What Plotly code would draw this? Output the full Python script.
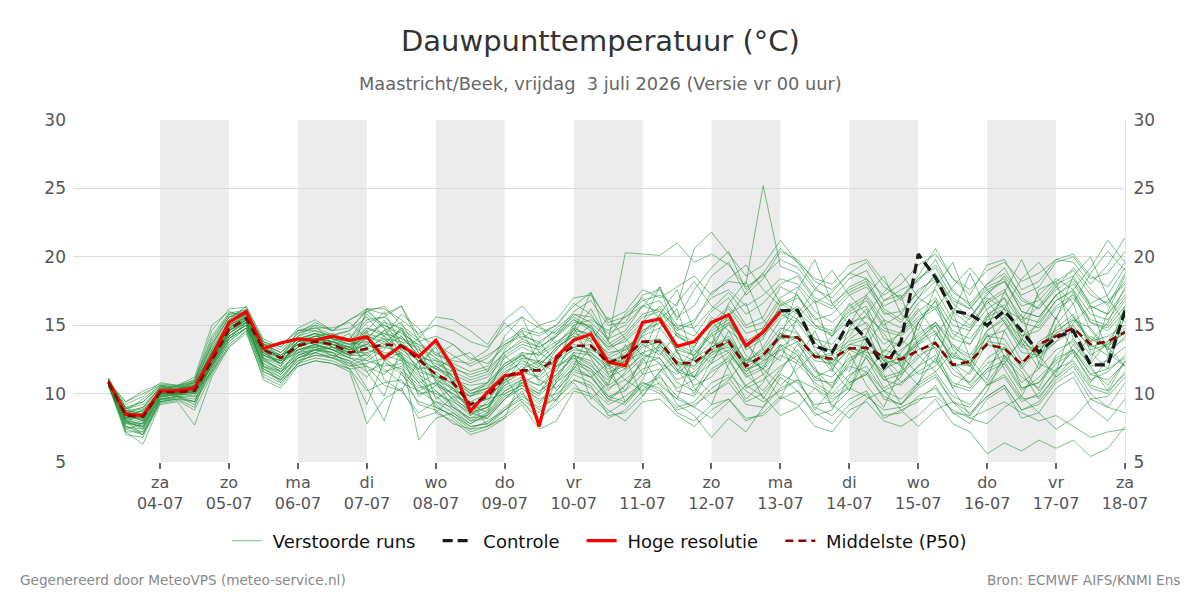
import pandas as pd
import plotly.graph_objects as go

# ---------------- data ----------------
times = pd.date_range("2026-07-03 06:00", periods=60, freq="6h")

tick_days = ["za", "zo", "ma", "di", "wo", "do", "vr", "za", "zo", "ma", "di", "wo", "do", "vr", "za"]
tick_dates = ["04-07", "05-07", "06-07", "07-07", "08-07", "09-07", "10-07", "11-07",
              "12-07", "13-07", "14-07", "15-07", "16-07", "17-07", "18-07"]
tick_iso = ["2026-07-%02d" % d for d in range(4, 19)]
shaded_days = ["2026-07-04", "2026-07-06", "2026-07-08", "2026-07-10",
               "2026-07-12", "2026-07-14", "2026-07-16"]

hires = [10.9, 8.5, 8.4,
         10.2, 10.2, 10.4, 12.7,
         15.2, 16.0, 13.3, 13.7,
         14.0, 13.9, 14.2, 13.9,
         14.15, 12.6, 13.5, 12.7,
         13.9, 11.9, 8.7, 10.1,
         11.3, 11.5, 7.6, 12.7,
         13.9, 14.35, 12.3, 12.05,
         15.2, 15.45, 13.45, 13.8,
         15.2, 15.76, 13.5, 14.5,
         16.0]

control_times = times[39:]
control = [16.05, 16.1, 13.5, 13.0, 15.3, 14.0, 11.9, 13.8, 20.2, 18.5, 16.05, 15.8,
           15.0, 16.05, 14.6, 13.0, 14.1, 14.6, 12.1, 12.1, 16.05]

median = [10.8, 8.4, 8.3, 10.1, 10.1, 10.2, 12.4, 14.7, 15.5, 13.2, 12.6, 13.5,
          13.8, 13.6, 13.0, 13.3, 13.6, 13.5, 12.5, 11.4, 10.8, 9.2, 9.8, 11.2,
          11.7, 11.7, 12.6, 13.5, 13.5, 12.25, 12.7, 13.8, 13.8, 12.2, 12.25, 13.3,
          13.8, 12.0, 12.8, 14.2, 14.1, 12.7, 12.55, 13.3, 13.35, 12.7, 12.5, 13.15,
          13.7, 12.1, 12.35, 13.6, 13.3, 12.15, 13.6, 14.2, 14.8, 13.6, 13.8, 14.5]

run01 = [11.0, 8.2, 7.9, 10.0, 10.3, 10.8, 12.9, 15.0, 15.6, 13.0, 12.2, 13.6,
         14.0, 13.8, 13.2, 14.5, 15.0, 14.2, 12.8, 11.0, 9.5, 8.4, 9.0, 10.8,
         11.5, 12.0, 13.4, 14.2, 13.8, 12.0, 13.0, 14.6, 15.5, 13.0, 12.4, 14.8,
         15.6, 13.2, 14.0, 16.5, 17.2, 15.0, 14.2, 15.8, 16.4, 14.0, 13.5, 15.2,
         16.8, 14.4, 13.6, 15.8, 16.5, 14.2, 15.0, 16.8, 17.5, 15.2, 14.8, 16.4]
run02 = [10.7, 8.8, 8.5, 10.3, 10.0, 9.8, 12.0, 14.4, 15.2, 12.5, 11.8, 13.0,
         13.5, 13.2, 12.6, 12.0, 11.4, 12.6, 11.0, 9.8, 8.8, 7.8, 8.5, 10.0,
         10.6, 9.8, 11.2, 12.8, 12.2, 10.4, 11.0, 12.2, 12.6, 10.8, 10.2, 11.6,
         12.4, 10.6, 11.4, 12.8, 12.2, 10.8, 10.0, 11.4, 12.0, 10.2, 9.6, 10.8,
         11.6, 9.8, 9.2, 10.6, 11.2, 9.4, 10.0, 11.8, 12.4, 10.6, 10.2, 11.4]
run03 = [10.9, 8.0, 7.4, 9.9, 10.2, 10.6, 13.2, 15.4, 16.0, 13.4, 12.8, 14.0,
         14.4, 14.0, 13.8, 15.2, 15.6, 14.6, 13.4, 12.6, 11.2, 10.0, 10.4, 12.2,
         13.0, 12.8, 14.2, 15.2, 15.0, 13.6, 14.4, 15.8, 16.2, 14.6, 15.2, 17.4,
         18.2, 18.0, 25.2, 19.3, 18.8, 17.0, 16.4, 17.8, 18.4, 16.2, 15.4, 17.0,
         18.2, 16.0, 15.0, 16.8, 17.6, 15.2, 16.4, 18.0, 18.6, 16.4, 15.8, 17.6]
run04 = [10.6, 8.6, 8.9, 10.5, 10.4, 10.9, 13.8, 15.8, 15.9, 13.8, 13.2, 14.4,
         14.8, 14.3, 14.6, 16.2, 15.8, 16.4, 14.2, 13.6, 12.8, 12.0, 12.6, 13.8,
         14.6, 14.2, 15.0, 16.6, 15.8, 13.8, 20.3, 20.2, 20.1, 21.0, 19.6, 20.2,
         19.4, 17.8, 18.6, 19.8, 19.2, 17.6, 17.0, 18.4, 19.0, 16.8, 17.6, 18.2,
         19.8, 17.4, 16.6, 18.0, 19.2, 17.0, 16.2, 17.8, 19.2, 17.6, 16.4, 18.8]
run05 = [11.1, 7.2, 6.3, 9.2, 9.4, 7.7, 11.2, 13.4, 14.6, 11.0, 10.4, 12.0,
         12.4, 12.2, 11.6, 7.8, 9.6, 10.4, 8.2, 8.6, 8.0, 7.0, 7.4, 8.2,
         9.2, 7.4, 8.0, 10.2, 9.8, 8.6, 9.4, 10.6, 10.0, 8.8, 9.2, 10.0,
         10.8, 9.2, 9.0, 10.4, 11.0, 9.0, 8.4, 9.6, 10.2, 8.2, 8.8, 9.4,
         10.6, 8.6, 7.8, 9.6, 10.4, 8.2, 8.6, 10.4, 11.2, 9.0, 8.0, 9.6]
run06 = [10.8, 9.2, 9.8, 10.8, 10.6, 11.0, 14.6, 16.2, 16.3, 14.0, 13.4, 14.8,
         15.4, 14.6, 15.4, 16.2, 16.2, 15.4, 14.4, 15.0, 14.6, 13.8, 13.4, 14.8,
         15.6, 14.8, 14.4, 16.0, 16.8, 15.0, 15.2, 17.2, 17.6, 15.6, 16.4, 18.6,
         19.6, 17.2, 18.4, 20.4, 19.8, 18.2, 17.6, 18.8, 19.6, 17.8, 17.0, 18.6,
         20.6, 18.4, 17.2, 19.4, 19.8, 17.6, 18.2, 19.8, 20.2, 18.6, 17.8, 19.6]
run07 = [10.5, 7.8, 7.6, 9.6, 9.8, 9.2, 11.6, 13.8, 14.8, 11.6, 11.0, 12.4,
         12.8, 12.6, 12.0, 12.6, 13.6, 12.8, 11.2, 10.2, 9.0, 8.0, 8.2, 9.6,
         10.4, 9.2, 10.8, 12.2, 11.6, 10.2, 11.6, 13.0, 13.4, 11.8, 11.2, 13.0,
         13.4, 11.6, 12.8, 14.2, 13.0, 11.2, 10.6, 12.4, 13.2, 11.0, 11.4, 12.6,
         13.8, 11.8, 10.8, 12.6, 13.4, 10.4, 10.8, 12.2, 13.0, 11.0, 11.6, 12.8]
run08 = [10.9, 8.4, 8.0, 10.1, 10.2, 10.0, 12.2, 14.6, 15.4, 12.8, 12.4, 13.4,
         13.9, 13.4, 12.8, 13.8, 12.4, 11.4, 10.2, 10.8, 9.6, 8.8, 9.2, 10.4,
         11.0, 10.6, 11.4, 12.6, 11.8, 9.8, 9.4, 10.8, 10.4, 8.6, 8.0, 9.2,
         9.6, 8.0, 8.6, 9.8, 9.2, 7.6, 7.2, 8.8, 9.4, 8.0, 7.6, 8.4,
         9.6, 7.8, 7.2, 5.6, 6.4, 5.8, 6.6, 6.0, 6.6, 5.4, 6.0, 7.6]
run09 = [11.0, 8.6, 8.7, 10.2, 10.0, 10.4, 12.6, 14.8, 15.6, 13.2, 12.6, 13.2,
         13.6, 13.8, 13.4, 14.8, 14.2, 13.2, 12.4, 11.4, 10.4, 9.4, 10.0, 11.4,
         12.4, 11.8, 12.8, 13.6, 13.2, 12.6, 12.2, 13.6, 14.0, 12.0, 12.6, 13.4,
         14.0, 12.4, 13.2, 14.8, 14.4, 12.6, 13.0, 13.8, 14.2, 12.4, 12.2, 13.8,
         14.6, 12.2, 12.0, 14.2, 14.0, 12.0, 13.8, 14.6, 15.4, 13.8, 14.2, 15.0]
run10 = [10.7, 8.1, 8.4, 9.8, 9.9, 10.2, 12.0, 14.2, 15.0, 12.2, 11.4, 12.8,
         13.2, 13.0, 12.2, 11.2, 12.8, 13.6, 11.6, 9.0, 8.4, 7.6, 7.8, 9.0,
         10.0, 8.8, 9.8, 11.4, 10.8, 9.4, 10.6, 11.8, 12.2, 10.2, 9.8, 11.8,
         12.6, 10.4, 11.0, 12.0, 12.8, 10.6, 9.8, 10.8, 11.4, 9.8, 9.2, 10.4,
         11.2, 9.4, 8.6, 9.8, 10.6, 8.8, 9.4, 11.0, 12.0, 10.0, 9.0, 10.8]
run11 = [10.6, 7.4, 7.0, 9.4, 9.6, 9.0, 12.4, 14.4, 15.4, 12.0, 11.6, 12.6,
         13.0, 13.4, 13.0, 13.6, 14.6, 15.2, 13.0, 12.0, 11.0, 10.6, 10.8, 12.2,
         12.8, 13.0, 13.8, 14.6, 14.4, 12.8, 13.4, 14.2, 14.8, 13.2, 12.8, 14.2,
         15.0, 13.8, 14.6, 16.2, 15.4, 14.0, 13.6, 15.2, 15.6, 14.6, 14.2, 15.4,
         16.2, 14.0, 13.6, 15.4, 15.8, 13.6, 13.2, 14.4, 15.6, 14.0, 13.4, 14.6]
run12 = [10.8, 9.0, 9.4, 10.6, 10.5, 10.8, 13.4, 15.6, 16.2, 13.6, 13.0, 14.2,
         14.6, 14.2, 14.0, 15.8, 14.8, 14.0, 13.6, 13.0, 12.2, 11.6, 12.0, 13.6,
         14.4, 13.6, 14.8, 15.8, 15.2, 14.0, 14.6, 16.4, 17.8, 15.4, 17.6, 19.2,
         20.4, 17.6, 18.8, 20.6, 19.6, 18.4, 18.0, 19.4, 19.8, 18.2, 16.8, 18.4,
         19.2, 17.0, 16.2, 17.8, 18.4, 16.0, 15.6, 17.2, 18.2, 16.4, 15.8, 17.2]
run13 = [10.9, 8.3, 8.2, 10.2, 10.1, 10.3, 12.3, 14.6, 15.5, 13.0, 12.6, 13.8,
         14.0, 13.6, 13.0, 13.0, 13.4, 13.0, 12.0, 11.6, 10.6, 9.2, 9.6, 11.0,
         11.6, 11.2, 12.6, 13.4, 13.6, 12.4, 12.8, 13.8, 13.6, 12.2, 12.0, 13.2,
         13.8, 12.0, 12.6, 14.0, 14.2, 12.8, 12.4, 13.4, 13.0, 12.8, 12.0, 13.2,
         13.8, 12.0, 12.2, 13.6, 13.2, 12.2, 13.6, 14.2, 14.8, 13.4, 13.8, 14.4]
run14 = [10.6, 7.6, 7.2, 9.6, 9.8, 9.6, 11.8, 14.0, 15.2, 11.8, 11.0, 12.6,
         13.2, 12.8, 12.4, 10.4, 8.0, 11.6, 9.2, 8.8, 7.8, 7.4, 8.0, 8.8,
         10.2, 8.0, 9.6, 11.0, 10.6, 8.4, 8.6, 9.8, 11.4, 9.2, 8.4, 6.8,
         8.2, 7.2, 9.0, 11.2, 10.2, 8.4, 8.8, 11.2, 12.6, 10.4, 11.2, 13.6,
         15.0, 12.2, 11.4, 13.8, 15.2, 13.0, 12.8, 15.6, 17.4, 14.6, 13.2, 16.4]
run15 = [11.1, 8.9, 9.2, 10.4, 10.3, 10.6, 13.0, 15.2, 15.8, 13.4, 12.6, 13.8,
         14.2, 14.0, 13.6, 14.6, 16.0, 13.6, 12.8, 12.2, 11.6, 11.0, 11.4, 12.8,
         13.6, 13.2, 14.4, 15.4, 14.6, 13.4, 13.8, 15.0, 15.6, 14.2, 13.6, 15.0,
         16.2, 14.4, 14.8, 16.8, 16.0, 14.8, 14.4, 16.2, 17.0, 15.0, 15.8, 17.6,
         18.4, 16.2, 15.4, 17.4, 18.2, 16.4, 16.8, 18.2, 19.0, 17.2, 16.6, 18.2]
run16 = [10.7, 8.0, 7.8, 9.9, 10.0, 10.1, 12.2, 14.4, 15.3, 12.6, 12.0, 13.2,
         13.6, 13.2, 12.6, 12.4, 12.0, 12.2, 10.8, 9.2, 8.2, 7.2, 7.6, 8.8,
         9.6, 8.6, 10.2, 11.6, 11.2, 9.8, 10.2, 11.4, 11.8, 10.4, 11.0, 12.6,
         13.2, 11.2, 11.8, 13.2, 13.8, 11.6, 11.2, 12.6, 13.2, 11.2, 11.6, 12.8,
         13.4, 11.4, 10.8, 12.2, 12.8, 10.8, 11.8, 13.2, 13.8, 12.0, 12.4, 13.4]
run17 = [10.9, 9.4, 10.2, 10.7, 10.6, 11.2, 15.0, 16.0, 15.6, 13.2, 12.8, 13.6,
         14.2, 14.4, 13.8, 13.4, 14.0, 13.8, 12.6, 12.4, 11.2, 10.2, 10.6, 12.0,
         12.8, 12.2, 13.2, 14.4, 14.0, 13.0, 13.2, 14.6, 15.2, 13.6, 13.0, 14.6,
         15.4, 13.4, 14.2, 15.6, 16.4, 15.0, 14.6, 16.0, 16.8, 14.8, 14.4, 16.0,
         17.0, 15.0, 14.6, 16.2, 17.0, 15.2, 14.8, 16.4, 17.2, 15.4, 15.0, 16.8]
run18 = [10.5, 8.2, 8.6, 10.0, 9.9, 10.0, 12.0, 14.0, 14.8, 12.4, 11.8, 12.8,
         13.2, 13.4, 12.8, 12.8, 11.6, 12.0, 10.0, 10.2, 9.2, 8.0, 8.6, 10.2,
         10.8, 10.0, 11.4, 12.8, 12.4, 11.2, 11.8, 12.8, 12.6, 11.0, 11.6, 12.8,
         13.6, 11.8, 12.2, 13.6, 12.8, 11.0, 10.8, 12.0, 11.6, 10.2, 10.8, 11.6,
         12.4, 10.6, 10.2, 11.6, 12.2, 10.2, 11.2, 12.4, 13.2, 11.4, 11.8, 12.6]
run19 = [10.8, 8.5, 8.0, 10.0, 10.2, 10.5, 12.6, 14.9, 15.7, 13.4, 12.6, 13.6,
         14.0, 13.8, 13.6, 14.0, 15.2, 14.8, 13.8, 12.8, 12.4, 12.2, 12.8, 13.6,
         14.2, 13.8, 14.6, 15.6, 14.8, 13.2, 14.0, 15.2, 16.4, 14.8, 14.2, 16.0,
         17.0, 15.0, 15.6, 17.8, 17.2, 15.4, 15.8, 17.2, 17.8, 16.0, 15.2, 17.0,
         18.8, 16.6, 15.6, 17.2, 18.6, 16.8, 16.2, 17.6, 18.4, 16.6, 17.2, 19.2]
run20 = [11.0, 7.9, 7.6, 9.8, 10.1, 10.2, 12.4, 14.6, 15.4, 12.4, 11.6, 13.0,
         13.6, 13.2, 12.8, 13.2, 12.8, 12.4, 11.4, 10.6, 10.0, 9.0, 9.2, 10.6,
         11.2, 10.6, 11.8, 13.0, 12.8, 11.6, 12.0, 13.4, 13.8, 12.4, 11.8, 13.0,
         13.8, 12.2, 12.8, 14.4, 14.0, 12.6, 12.8, 13.6, 14.0, 12.4, 13.2, 14.2,
         15.2, 13.4, 12.6, 14.2, 14.6, 12.4, 12.8, 13.8, 14.6, 12.8, 13.6, 14.4]
run21 = [10.7, 7.0, 6.8, 9.3, 9.5, 8.8, 11.4, 13.6, 14.6, 11.4, 10.8, 12.2,
         12.6, 12.4, 11.8, 10.2, 10.8, 11.0, 9.4, 9.0, 8.4, 7.4, 7.6, 8.4,
         9.4, 8.2, 9.2, 10.4, 10.0, 8.8, 8.0, 9.4, 9.6, 8.4, 7.6, 8.8,
         9.6, 8.2, 8.4, 9.6, 10.2, 8.6, 7.8, 9.2, 10.0, 8.4, 8.6, 9.8,
         10.4, 8.6, 8.4, 9.8, 10.6, 8.8, 9.2, 10.8, 11.6, 9.6, 9.8, 11.2]
run22 = [10.6, 8.7, 9.0, 10.4, 10.3, 10.5, 13.2, 15.2, 15.8, 13.6, 13.0, 14.0,
         14.4, 14.2, 14.0, 15.4, 15.6, 16.4, 13.8, 14.2, 13.6, 12.6, 12.2, 13.4,
         14.8, 14.4, 15.0, 16.4, 17.4, 15.2, 15.6, 16.4, 16.8, 15.0, 14.8, 16.2,
         17.4, 15.8, 16.6, 18.0, 18.6, 16.8, 16.2, 17.4, 18.0, 16.4, 17.0, 18.4,
         19.4, 17.6, 16.4, 18.0, 18.8, 17.2, 17.8, 19.6, 20.0, 18.4, 18.8, 20.4]
run23 = [11.0, 8.3, 8.1, 10.1, 10.0, 10.3, 12.4, 14.7, 15.5, 13.0, 12.2, 13.4,
         13.8, 13.6, 13.2, 13.6, 13.0, 12.8, 11.8, 11.2, 10.8, 9.8, 10.2, 11.6,
         12.2, 11.6, 12.4, 13.2, 13.0, 12.0, 12.6, 13.8, 14.0, 12.6, 12.0, 13.4,
         14.2, 12.4, 13.0, 14.4, 13.8, 12.4, 12.2, 13.6, 13.4, 12.2, 12.6, 13.6,
         14.4, 12.6, 12.4, 13.8, 13.6, 11.8, 13.4, 14.4, 15.0, 13.2, 13.6, 14.8]
run24 = [10.8, 7.6, 7.0, 9.4, 9.7, 9.4, 11.6, 13.8, 14.8, 11.6, 11.0, 12.0,
         12.4, 12.2, 11.8, 12.0, 10.6, 10.2, 8.6, 9.4, 8.6, 7.6, 7.8, 8.8,
         9.8, 9.0, 9.6, 10.8, 9.2, 8.2, 8.8, 10.2, 10.8, 9.6, 9.0, 10.4,
         11.2, 9.4, 10.0, 11.4, 10.8, 9.2, 9.4, 10.6, 11.6, 9.6, 9.2, 10.6,
         11.4, 9.4, 9.0, 10.6, 11.4, 9.6, 9.8, 11.2, 12.2, 10.4, 10.0, 11.6]
run25 = [10.9, 8.4, 8.8, 10.3, 10.4, 10.6, 12.8, 15.0, 15.8, 13.2, 12.6, 13.8,
         14.2, 13.8, 13.4, 14.2, 13.8, 14.6, 12.6, 11.8, 11.0, 10.0, 10.4, 11.8,
         12.6, 12.4, 13.6, 14.8, 14.2, 12.6, 13.2, 14.4, 15.2, 13.4, 12.8, 14.4,
         15.2, 13.6, 14.4, 15.8, 15.2, 13.4, 13.2, 14.6, 15.2, 13.6, 14.4, 15.6,
         16.4, 14.6, 14.0, 15.6, 16.2, 14.2, 14.6, 16.2, 17.0, 15.2, 14.6, 16.0]
run26 = [10.7, 8.5, 8.3, 10.0, 10.2, 10.4, 12.6, 14.8, 15.6, 13.0, 12.4, 13.4,
         13.8, 13.6, 13.2, 14.0, 14.4, 13.6, 12.4, 11.8, 11.4, 10.8, 11.2, 12.6,
         13.4, 12.8, 13.6, 15.0, 15.4, 14.6, 15.6, 16.8, 17.2, 16.4, 20.6, 21.8,
         20.2, 18.6, 19.4, 21.2, 19.6, 17.8, 16.6, 17.6, 18.2, 15.8, 16.0, 17.4,
         18.6, 16.8, 16.2, 17.6, 18.2, 16.0, 15.6, 17.2, 18.0, 16.2, 16.8, 18.0]
run27 = [10.6, 7.8, 7.8, 9.8, 9.9, 10.0, 12.0, 14.2, 15.0, 12.2, 11.6, 12.6,
         13.2, 13.0, 12.6, 16.2, 14.8, 12.8, 6.6, 8.2, 8.6, 7.8, 8.4, 9.6,
         10.8, 11.4, 13.2, 14.6, 17.4, 13.8, 12.6, 15.2, 17.8, 14.2, 13.4, 15.6,
         14.6, 12.2, 13.4, 15.4, 16.2, 13.8, 12.2, 14.0, 14.8, 11.8, 12.4, 14.0,
         15.0, 12.8, 12.2, 14.6, 15.4, 13.4, 13.0, 14.8, 15.8, 13.6, 12.8, 14.2]
run28 = [10.8, 8.9, 9.4, 10.5, 10.4, 10.7, 13.6, 15.6, 16.0, 13.8, 13.4, 14.6,
         15.0, 14.6, 14.8, 16.0, 15.0, 14.4, 13.6, 12.6, 11.8, 11.4, 11.8, 13.0,
         13.8, 13.4, 14.2, 15.4, 14.8, 13.4, 14.2, 15.6, 16.0, 14.4, 13.8, 15.2,
         16.4, 14.8, 15.2, 17.0, 17.8, 16.0, 15.2, 16.4, 17.2, 15.4, 14.8, 16.6,
         17.6, 15.4, 14.8, 16.6, 17.4, 15.6, 15.2, 16.8, 17.6, 15.8, 15.4, 17.0]
run29 = [11.1, 8.0, 7.5, 9.7, 10.0, 10.2, 12.2, 14.4, 15.2, 12.0, 11.2, 12.4,
         12.8, 12.8, 12.4, 11.6, 12.2, 11.8, 10.6, 10.0, 9.4, 8.6, 9.0, 10.2,
         11.0, 10.2, 11.0, 12.4, 11.8, 10.6, 11.4, 12.6, 13.2, 11.6, 11.2, 12.2,
         13.0, 11.4, 12.0, 13.4, 14.2, 12.8, 12.0, 13.2, 12.6, 11.0, 10.6, 12.0,
         12.8, 10.8, 10.4, 11.8, 12.4, 10.4, 10.8, 12.6, 13.2, 11.4, 11.0, 12.2]
run30 = [10.9, 8.6, 8.4, 10.2, 10.3, 10.6, 13.0, 15.2, 15.9, 13.6, 12.8, 14.0,
         14.4, 14.0, 13.8, 14.8, 14.4, 14.0, 13.2, 12.4, 12.0, 11.2, 11.6, 13.0,
         14.0, 13.4, 14.2, 15.8, 15.6, 14.4, 15.0, 16.4, 16.0, 14.8, 15.4, 17.0,
         17.6, 16.4, 17.2, 18.4, 18.0, 16.6, 17.4, 18.8, 18.4, 17.2, 18.0, 19.4,
         20.2, 18.4, 17.6, 19.0, 19.6, 18.2, 18.8, 19.8, 19.6, 18.0, 19.4, 21.4]
run31 = [10.8, 8.7, 9.6, 10.6, 10.2, 10.9, 14.2, 15.9, 16.1, 13.2, 12.0, 14.2,
         15.0, 13.6, 13.4, 12.4, 13.2, 14.8, 13.0, 9.6, 10.4, 8.8, 9.8, 12.8,
         11.6, 13.8, 12.2, 14.8, 12.6, 10.6, 13.6, 11.4, 14.8, 16.2, 12.4, 13.0,
         15.8, 16.6, 13.2, 12.4, 15.6, 16.8, 12.8, 11.6, 14.4, 16.8, 17.2, 13.4,
         12.2, 15.8, 18.8, 16.0, 12.6, 13.8, 17.6, 18.2, 14.0, 12.4, 16.0, 18.6]
run32 = [10.5, 7.4, 7.8, 9.6, 9.8, 9.4, 12.6, 14.2, 15.0, 12.6, 11.6, 13.2,
         13.4, 13.8, 14.4, 11.6, 9.8, 13.4, 11.8, 13.6, 11.6, 9.2, 8.6, 11.4,
         13.0, 10.8, 9.4, 12.0, 14.6, 11.4, 10.2, 12.6, 10.6, 9.6, 12.8, 14.4,
         11.8, 9.6, 10.8, 13.6, 11.2, 8.8, 10.4, 13.0, 10.6, 9.0, 11.8, 15.2,
         13.2, 10.4, 11.6, 14.4, 11.8, 9.8, 12.2, 15.6, 13.0, 10.8, 12.6, 16.2]
run33 = [11.0, 9.0, 8.2, 10.4, 10.6, 10.2, 12.8, 15.4, 16.4, 13.8, 12.4, 14.6,
         14.8, 14.8, 15.2, 14.0, 15.4, 13.2, 14.0, 11.8, 12.6, 13.0, 11.6, 14.2,
         15.6, 13.0, 12.2, 15.0, 13.8, 15.6, 14.0, 12.8, 15.8, 17.6, 14.6, 13.6,
         16.6, 18.2, 15.4, 14.0, 17.6, 19.8, 16.6, 15.0, 17.2, 18.6, 15.8, 14.6,
         17.8, 19.6, 16.4, 14.8, 17.4, 19.8, 17.0, 15.4, 18.6, 20.0, 17.0, 15.2]
run34 = [10.6, 8.0, 7.0, 9.6, 9.6, 10.6, 12.8, 14.0, 15.2, 12.0, 10.8, 12.2,
         13.0, 12.6, 13.4, 14.6, 11.0, 10.2, 12.4, 8.6, 9.8, 9.4, 7.6, 8.2,
         11.2, 12.4, 10.2, 11.8, 13.4, 12.2, 9.4, 11.0, 13.6, 11.8, 10.0, 12.4,
         14.0, 12.2, 9.6, 11.6, 13.6, 12.0, 9.0, 10.2, 12.8, 11.4, 9.2, 10.8,
         12.6, 10.4, 8.4, 10.2, 12.8, 11.6, 9.6, 11.4, 13.6, 12.0, 10.2, 12.4]
run35 = [10.9, 8.2, 8.8, 10.0, 10.0, 10.4, 12.4, 14.6, 15.4, 12.8, 12.2, 13.2,
         13.6, 13.2, 13.0, 13.2, 14.2, 12.4, 10.8, 11.4, 10.2, 9.8, 10.4, 10.8,
         12.6, 11.0, 10.4, 12.0, 11.2, 9.6, 9.2, 10.6, 11.2, 9.8, 9.0, 8.2,
         9.4, 10.6, 9.8, 8.4, 9.0, 10.4, 9.2, 8.2, 9.6, 10.2, 8.8, 7.6,
         8.8, 9.4, 8.2, 7.8, 9.0, 9.8, 8.6, 7.4, 8.2, 9.6, 9.0, 8.6]
run36 = [10.7, 7.6, 7.4, 9.5, 9.8, 9.8, 12.0, 14.2, 15.0, 11.8, 11.2, 12.6,
         13.0, 12.6, 12.2, 13.0, 11.8, 10.8, 10.2, 9.4, 9.0, 8.2, 8.4, 9.8,
         10.4, 9.6, 10.0, 11.0, 10.4, 9.2, 9.8, 10.8, 10.2, 9.0, 9.4, 10.8,
         11.4, 10.2, 9.4, 10.2, 11.0, 10.4, 9.6, 10.4, 9.8, 8.8, 9.0, 9.6,
         9.8, 8.8, 8.2, 8.8, 9.4, 8.6, 8.0, 8.4, 7.6, 6.8, 7.2, 7.4]
run37 = [11.1, 8.8, 8.0, 10.2, 10.6, 10.8, 13.6, 15.6, 15.8, 13.6, 13.6, 14.6,
         14.6, 14.2, 14.6, 15.6, 14.2, 15.8, 14.8, 12.8, 13.6, 12.4, 13.2, 15.2,
         14.0, 15.0, 13.6, 14.4, 16.2, 14.0, 15.8, 17.0, 15.4, 16.6, 18.2, 16.4,
         15.6, 17.4, 18.8, 16.6, 15.8, 17.6, 19.0, 17.2, 15.8, 17.4, 18.8, 17.0,
         16.2, 17.8, 19.2, 17.6, 16.2, 18.4, 19.6, 17.8, 16.6, 18.8, 20.4, 19.0]
run38 = [10.8, 8.4, 8.6, 9.9, 10.4, 10.0, 11.6, 13.4, 14.4, 11.2, 10.6, 12.2,
         13.4, 12.8, 11.8, 9.2, 12.4, 13.0, 9.8, 10.6, 11.8, 8.4, 9.4, 11.2,
         9.4, 8.0, 11.0, 13.0, 9.6, 10.8, 12.6, 9.8, 11.6, 13.2, 10.4, 9.2,
         12.2, 14.0, 11.4, 9.6, 12.4, 14.6, 11.8, 10.2, 13.6, 15.4, 12.0, 10.6,
         14.2, 16.0, 12.6, 11.0, 14.6, 15.8, 12.2, 11.6, 15.2, 16.4, 13.0, 12.0]
run39 = [10.6, 8.2, 7.6, 9.8, 9.9, 10.4, 12.8, 15.0, 15.6, 12.8, 12.2, 13.8,
         14.4, 13.4, 12.8, 14.2, 13.6, 14.8, 12.2, 13.4, 10.6, 9.8, 10.8, 13.2,
         14.6, 12.2, 11.6, 14.0, 15.0, 12.4, 11.8, 14.4, 15.8, 13.0, 11.2, 13.6,
         15.2, 12.8, 11.8, 14.6, 16.0, 13.2, 11.6, 14.8, 16.2, 12.6, 11.4, 15.2,
         16.8, 13.2, 12.0, 15.6, 17.0, 13.8, 11.8, 15.0, 16.6, 13.0, 11.8, 15.8]
run40 = [11.0, 8.0, 8.4, 10.0, 10.1, 10.1, 12.2, 14.6, 15.2, 12.8, 12.4, 13.0,
         13.2, 13.6, 13.4, 12.8, 13.8, 12.6, 11.6, 11.2, 9.8, 8.6, 9.0, 10.6,
         11.8, 12.4, 12.0, 12.8, 12.0, 11.0, 12.8, 14.2, 13.0, 11.6, 13.4, 15.4,
         13.6, 12.0, 14.8, 16.2, 14.4, 12.6, 14.2, 16.6, 15.0, 13.0, 14.6, 16.2,
         14.4, 12.6, 14.6, 16.8, 15.2, 13.4, 15.4, 17.2, 15.6, 13.8, 15.2, 17.8]
run41 = [10.7, 8.6, 9.0, 10.4, 10.0, 10.6, 13.0, 15.0, 15.8, 13.2, 12.8, 13.6,
         14.2, 14.0, 13.6, 13.8, 13.4, 14.2, 12.8, 11.0, 10.4, 8.6, 8.2, 9.6,
         10.8, 9.4, 10.8, 11.8, 11.2, 12.2, 11.0, 10.2, 11.6, 12.4, 11.2, 10.0,
         11.0, 12.6, 11.8, 10.6, 11.8, 13.0, 12.2, 10.8, 11.4, 13.2, 12.8, 11.4,
         12.0, 13.6, 12.2, 10.6, 12.2, 14.0, 12.8, 11.2, 12.6, 14.2, 13.4, 12.0]
run42 = [10.9, 8.4, 8.2, 10.0, 10.3, 10.6, 12.6, 14.8, 15.6, 13.2, 12.6, 13.8,
         14.0, 13.6, 13.2, 14.4, 14.0, 12.6, 11.8, 12.0, 11.2, 10.2, 10.8, 12.0,
         12.8, 12.0, 13.4, 14.2, 13.0, 11.8, 12.4, 13.0, 12.2, 11.4, 12.6, 13.8,
         13.0, 11.6, 12.4, 13.2, 12.4, 11.2, 11.8, 13.4, 12.8, 11.6, 13.0, 14.4,
         15.2, 14.0, 15.6, 17.0, 16.2, 15.4, 17.2, 18.4, 17.6, 19.2, 21.2, 19.6]
run43 = [10.6, 7.2, 7.2, 9.4, 9.6, 9.4, 11.8, 14.0, 14.8, 12.0, 11.4, 12.8,
         13.4, 13.0, 12.0, 12.2, 12.6, 11.6, 10.4, 10.8, 10.0, 9.2, 9.6, 10.0,
         10.6, 10.0, 12.0, 12.6, 11.4, 9.6, 10.6, 12.4, 13.6, 12.2, 10.6, 11.2,
         12.8, 11.4, 10.2, 11.8, 13.2, 11.8, 10.4, 12.2, 13.8, 12.4, 10.8, 12.0,
         13.6, 12.2, 10.6, 11.8, 13.4, 12.0, 10.2, 11.6, 13.2, 11.8, 10.6, 12.4]
run44 = [10.8, 9.4, 10.0, 10.6, 10.5, 11.0, 14.0, 15.8, 16.0, 13.6, 13.0, 14.4,
         15.2, 14.6, 15.4, 16.0, 16.4, 15.0, 14.0, 15.6, 15.4, 14.6, 13.6, 15.4,
         16.4, 15.0, 15.4, 17.0, 17.2, 15.4, 16.0, 17.6, 17.0, 17.8, 18.6, 17.2,
         18.4, 19.4, 17.6, 16.4, 17.0, 15.6, 14.2, 15.4, 13.8, 12.6, 14.0, 12.8,
         11.6, 13.0, 12.0, 10.8, 12.6, 11.2, 10.4, 12.8, 14.0, 12.2, 13.8, 15.6]
run45 = [11.0, 8.0, 7.8, 10.0, 10.1, 10.3, 12.4, 14.6, 15.4, 12.6, 12.2, 13.4,
         14.0, 13.8, 13.2, 13.6, 14.6, 13.8, 13.4, 10.8, 9.0, 8.2, 8.8, 11.0,
         12.0, 11.0, 12.0, 13.4, 12.8, 11.4, 12.4, 13.6, 12.8, 14.4, 13.2, 12.2,
         14.6, 13.6, 12.4, 14.2, 15.4, 14.0, 13.0, 14.2, 15.8, 14.4, 12.6, 13.8,
         15.2, 13.6, 12.8, 14.6, 15.6, 14.0, 12.6, 13.8, 15.4, 14.8, 13.2, 14.0]

perturbed_runs = [run01, run02, run03, run04, run05, run06, run07, run08, run09, run10,
                  run11, run12, run13, run14, run15, run16, run17, run18, run19, run20,
                  run21, run22, run23, run24, run25, run26, run27, run28, run29, run30,
                  run31, run32, run33, run34, run35, run36, run37, run38, run39, run40,
                  run41, run42, run43, run44, run45]

legend_names = ["Verstoorde runs", "Controle", "Hoge resolutie", "Middelste (P50)"]

# ---------------- figure ----------------
FONT = "DejaVu Sans"
LEAD = "\u00a0"
PAD = "\u00a0\u00a0\u00a0"
fig = go.Figure()

for i, run in enumerate(perturbed_runs):
    fig.add_trace(go.Scatter(
        x=times, y=run, mode="lines", name=LEAD + legend_names[0] + PAD,
        legendgroup="ens", showlegend=(i == 0),
        line=dict(color="rgba(34,145,58,0.58)", width=1),
        hoverinfo="skip"))

fig.add_trace(go.Scatter(
    x=control_times, y=control, mode="lines", name=LEAD + legend_names[1] + PAD,
    line=dict(color="#1a1a1a", width=3.2, dash="10px,5px")))
fig.add_trace(go.Scatter(
    x=times[:len(hires)], y=hires, mode="lines", name=LEAD + legend_names[2] + PAD,
    line=dict(color="#ff0000", width=3.2)))
fig.add_trace(go.Scatter(
    x=times, y=median, mode="lines", name=LEAD + legend_names[3],
    line=dict(color="#8b0000", width=2.6, dash="8px,5px")))

# invisible helper trace so the right-hand axis is drawn
fig.add_trace(go.Scatter(
    x=[times[0]], y=[5], yaxis="y2", mode="markers",
    marker=dict(opacity=0), showlegend=False, hoverinfo="skip"))

shapes = []
for d in shaded_days:
    start = pd.Timestamp(d)
    shapes.append(dict(type="rect", xref="x", yref="paper",
                       x0=start, x1=start + pd.Timedelta(days=1), y0=0, y1=1,
                       fillcolor="#ececec", line=dict(width=0), layer="below"))

ticktext = ["%s<br>%s" % (a, b) for a, b in zip(tick_days, tick_dates)]

L, R, T, B = 74, 75, 120, 138
PW, PH = 1200 - L - R, 600 - T - B


def px(xp):
    return (xp - L) / PW


def py(yp):
    return (600 - B - yp) / PH


fig.update_layout(
    width=1200, height=600,
    margin=dict(l=L, r=R, t=T, b=B),
    paper_bgcolor="white", plot_bgcolor="white",
    font=dict(family=FONT, color="#555555"),
    shapes=shapes,
    showlegend=True,
    legend=dict(orientation="h", x=0.5, xanchor="center", y=py(541), yanchor="middle",
                font=dict(size=18, color="#111111", family=FONT),
                bgcolor="rgba(0,0,0,0)"),
    xaxis=dict(type="date", range=["2026-07-02 18:00", "2026-07-18 00:00"],
               tickmode="array", tickvals=tick_iso, ticktext=ticktext,
               ticks="outside", ticklen=6, tickwidth=2, tickcolor="#666666",
               showgrid=False, zeroline=False, showline=False,
               tickfont=dict(size=16, color="#555555", family=FONT)),
    yaxis=dict(range=[5, 30], tickvals=[5, 10, 15, 20, 25, 30],
               showgrid=True, gridcolor="#dadada", gridwidth=1,
               zeroline=False, showline=False, ticks="", ticklabelstandoff=7,
               tickfont=dict(size=17, color="#555555", family=FONT)),
    yaxis2=dict(range=[5, 30], tickvals=[5, 10, 15, 20, 25, 30], overlaying="y",
                side="right", showgrid=False, zeroline=False,
                showline=True, linecolor="#e3e3e3", linewidth=1, ticks="",
                ticklabelstandoff=4,
                tickfont=dict(size=17, color="#555555", family=FONT)),
    annotations=[
        dict(text="Dauwpunttemperatuur (°C)", xref="paper", yref="paper",
             x=px(600), y=py(41), xanchor="center", yanchor="middle", showarrow=False,
             font=dict(size=29, color="#333333", family=FONT)),
        dict(text="Maastricht/Beek, vrijdag  3 juli 2026 (Versie vr 00 uur)",
             xref="paper", yref="paper", x=px(600), y=py(84),
             xanchor="center", yanchor="middle", showarrow=False,
             font=dict(size=17.8, color="#666666", family=FONT)),
        dict(text="Gegenereerd door MeteoVPS (meteo-service.nl)", xref="paper", yref="paper",
             x=px(18), y=py(580), xanchor="left", yanchor="middle", showarrow=False,
             font=dict(size=13.6, color="#888888", family=FONT)),
        dict(text="Bron: ECMWF AIFS/KNMI Ens", xref="paper", yref="paper",
             x=px(1182), y=py(580), xanchor="right", yanchor="middle", showarrow=False,
             font=dict(size=13.6, color="#888888", family=FONT)),
    ],
)

fig.write_html("out.html")
